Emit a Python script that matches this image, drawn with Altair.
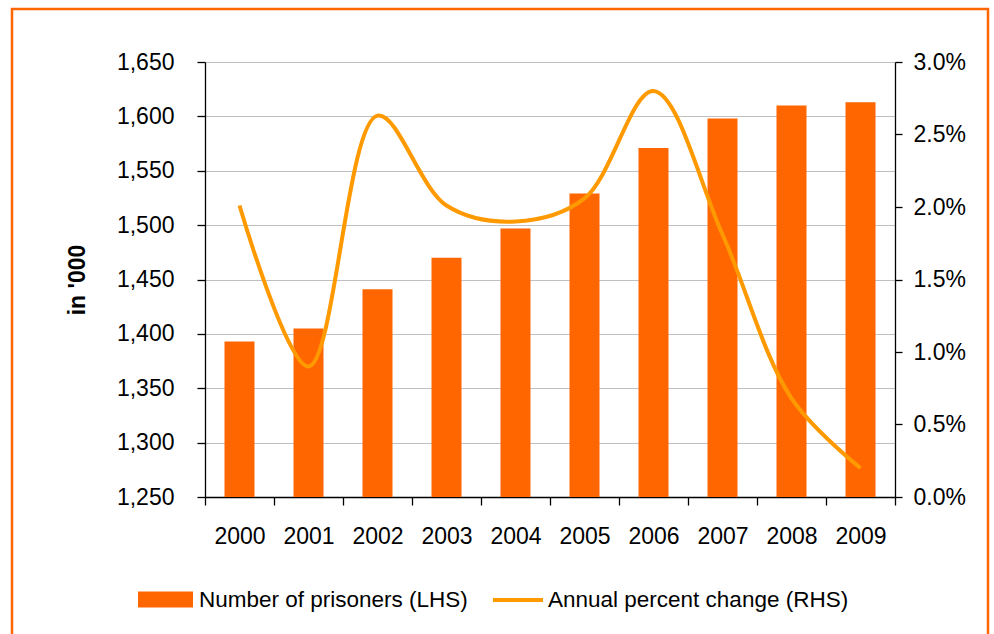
import altair as alt
import pandas as pd

# Prisoner population (thousands) and its annual percent change
years = ["2000", "2001", "2002", "2003", "2004", "2005", "2006", "2007", "2008", "2009"]
prisoners = [1393, 1405, 1441, 1470, 1497, 1529, 1571, 1598, 1610, 1613]
pct_change = [2.01, 0.90, 2.63, 2.01, 1.90, 2.06, 2.80, 1.81, 0.68, 0.20]

left_ticks = [1250, 1300, 1350, 1400, 1450, 1500, 1550, 1600, 1650]
right_ticks = [0.0, 0.005, 0.01, 0.015, 0.02, 0.025, 0.03]

df = pd.DataFrame({
    "year": years,
    "prisoners": prisoners,
    "change": [v / 100 for v in pct_change],
})

BAR = "#FF6600"
LINE = "#FF9900"
FONT = "Liberation Sans"
FS = 23
LFS = 22.5

x_enc = alt.X(
    "year:O",
    title=None,
    scale=alt.Scale(paddingInner=0, paddingOuter=0),
    axis=alt.Axis(
        labelAngle=0, tickBand="extent", grid=False,
        domainColor="black", domainWidth=1.3, tickColor="black", tickWidth=1.3,
        tickSize=8, labelPadding=20, labelFontSize=FS,
    ),
)

# Orange frame around the whole figure
frame = alt.Chart(alt.InlineData(values=[{"k": 0}])).mark_rect(
    fillOpacity=0, stroke=BAR, strokeWidth=2.5
).encode(
    x=alt.value(-193), x2=alt.value(783), y=alt.value(-53), y2=alt.value(600)
)

bars = alt.Chart(df).transform_calculate(
    series="'Number of prisoners (LHS)'"
).mark_bar(width=30, clip=True).encode(
    x=x_enc,
    y=alt.Y(
        "prisoners:Q",
        scale=alt.Scale(domain=[1250, 1650], nice=False, zero=False),
        axis=alt.Axis(
            title="in '000", values=left_ticks, format=",d",
            grid=True, gridColor="#C0C0C0", gridWidth=1,
            domainColor="black", domainWidth=1.3, tickColor="black", tickWidth=1.3,
            tickSize=8, labelPadding=23, labelFontSize=FS,
            titleFontSize=FS, titleFontWeight="bold",
            titleX=-128, titleY=217.5, titleAngle=270,
            titleAlign="center", titleBaseline="middle",
        ),
    ),
    fill=alt.Fill(
        "series:N",
        scale=alt.Scale(range=[BAR]),
        legend=alt.Legend(
            title=None, orient="none", legendX=-67, legendY=510,
            symbolType="M-1,-0.29H1V0.29H-1Z", symbolSize=3025,
            symbolStrokeWidth=0, labelOffset=6, labelFontSize=LFS,
            labelLimit=600, padding=0,
        ),
    ),
)

line = alt.Chart(df).transform_calculate(
    series="'Annual percent change (RHS)'"
).mark_line(strokeWidth=4, interpolate="catmull-rom").encode(
    x=x_enc,
    y=alt.Y(
        "change:Q",
        scale=alt.Scale(domain=[0, 0.03], nice=False),
        axis=alt.Axis(
            orient="right", title=None, values=right_ticks, format=".1%",
            grid=False, domainColor="black", domainWidth=1.3,
            tickColor="black", tickWidth=1.3, tickSize=7,
            labelPadding=11, labelFontSize=FS,
        ),
    ),
    stroke=alt.Stroke(
        "series:N",
        scale=alt.Scale(range=[LINE]),
        legend=alt.Legend(
            title=None, orient="none", legendX=286, legendY=511,
            symbolType="stroke", symbolSize=2500, symbolStrokeWidth=4,
            labelOffset=3, labelFontSize=LFS, labelLimit=600, padding=0,
        ),
    ),
)

chart = alt.layer(frame, bars, line).resolve_scale(
    y="independent"
).properties(
    width=690,
    height=435,
    autosize=alt.AutoSizeParams(type="none"),
    padding={"left": 205, "top": 62, "right": 99, "bottom": 137},
    background="white",
).configure_view(
    strokeWidth=0
).configure_axis(
    labelFont=FONT, titleFont=FONT, labelColor="black", titleColor="black"
).configure_legend(
    labelFont=FONT, labelColor="black"
)

chart.save("out.html", embed_options={"renderer": "svg", "actions": False})
